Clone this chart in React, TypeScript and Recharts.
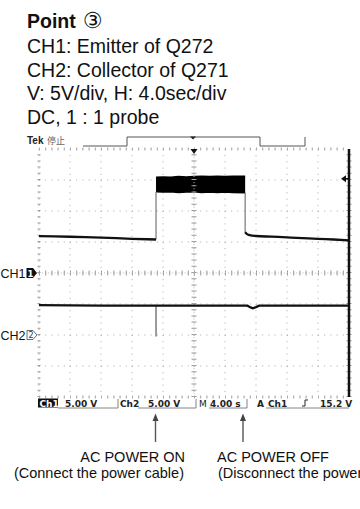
import React from 'react';
import { ComposedChart, Line, Area, XAxis, YAxis, CartesianGrid, ReferenceLine, ReferenceDot } from 'recharts';

// Horizontal: 10 div x 4.00 s ; Vertical: 8 div x 5.00 V
const timeTicks = [0, 4, 8, 12, 16, 20, 24, 28, 32, 36, 40];
const ch1VoltTicks = [-20, -15, -10, -5, 0, 5, 10, 15, 20];

const headerLines = ['CH1: Emitter of Q272', 'CH2: Collector of Q271', 'V: 5V/div, H: 4.0sec/div', 'DC, 1 : 1 probe'];

// CH1 (emitter of Q272), volts vs seconds
const ch1Before = [
  { t: 0, v: 5.95 }, { t: 2, v: 5.9 }, { t: 4, v: 5.85 }, { t: 6, v: 5.78 }, { t: 8, v: 5.7 },
  { t: 10, v: 5.62 }, { t: 12, v: 5.52 }, { t: 14, v: 5.44 }, { t: 15.1, v: 5.4 },
];
const ch1Rise = [{ t: 15.1, v: 5.4 }, { t: 15.1, v: 13.1 }];
const ch1Band = [
  { t: 15.1, r: [13.1, 15.45] }, { t: 16, r: [13.05, 15.5] }, { t: 17, r: [13.1, 15.45] },
  { t: 18, r: [13.0, 15.55] }, { t: 19, r: [13.05, 15.5] }, { t: 20, r: [13.1, 15.55] },
  { t: 21, r: [13.0, 15.6] }, { t: 22, r: [13.05, 15.55] }, { t: 23, r: [13.0, 15.6] },
  { t: 24, r: [13.05, 15.55] }, { t: 25, r: [13.0, 15.6] }, { t: 26.6, r: [12.95, 15.6] },
];
const ch1Fall = [{ t: 26.6, v: 12.95 }, { t: 26.6, v: 6.6 }];
const ch1After = [
  { t: 26.6, v: 6.6 }, { t: 26.8, v: 6.3 }, { t: 27.2, v: 6.1 }, { t: 28, v: 5.97 }, { t: 30, v: 5.86 },
  { t: 32, v: 5.75 }, { t: 34, v: 5.63 }, { t: 36, v: 5.5 }, { t: 38, v: 5.4 }, { t: 40, v: 5.27 },
];

// CH2 (collector of Q271)
const ch2Trace = [
  { t: 0, v: 4.82 }, { t: 4, v: 4.78 }, { t: 8, v: 4.75 }, { t: 12, v: 4.73 }, { t: 15.1, v: 4.73 },
  { t: 20, v: 4.73 }, { t: 26.9, v: 4.73 }, { t: 27.3, v: 4.45 }, { t: 27.6, v: 4.3 }, { t: 28.0, v: 4.5 },
  { t: 28.4, v: 4.73 }, { t: 34, v: 4.73 }, { t: 40, v: 4.75 },
];
const ch2Spike = [{ t: 15.1, v: 4.73 }, { t: 15.1, v: -0.25 }];

const triggerLevel = 15.2;
const triggerTime = 20;

const SANS = "'Liberation Sans', Arial, sans-serif";
const LCD = "'DejaVu Sans', sans-serif";

const Ch1Marker = (p: any) => {
  const { cx, cy } = p;
  if (cx == null || cy == null) return null;
  return (
    <g>
      <text x={0.5} y={cy + 4.5} fontFamily={SANS} fontSize={12.5} fill="#111">CH1</text>
      <path d={`M${cx - 12.5},${cy - 5} L${cx - 6},${cy - 5} L${cx - 2},${cy} L${cx - 6},${cy + 5} L${cx - 12.5},${cy + 5} Z`} fill="#111" />
      <text x={cx - 8.5} y={cy + 3.5} textAnchor="middle" fontFamily={LCD} fontWeight="bold" fontSize={8.5} fill="#fff">1</text>
    </g>
  );
};

const Ch2Marker = (p: any) => {
  const { cx, cy } = p;
  if (cx == null || cy == null) return null;
  return (
    <g>
      <text x={0.5} y={cy + 4.5} fontFamily={SANS} fontSize={12.5} fill="#111">CH2</text>
      <path d={`M${cx - 12},${cy - 4.5} L${cx - 6},${cy - 4.5} L${cx - 2},${cy} L${cx - 6},${cy + 4.5} L${cx - 12},${cy + 4.5} Z`} fill="#fff" stroke="#444" strokeWidth={0.8} />
      <text x={cx - 8} y={cy + 3.2} textAnchor="middle" fontFamily={LCD} fontSize={8} fill="#333">2</text>
    </g>
  );
};

const TrigLevelMarker = (p: any) => {
  const { cx, cy } = p;
  if (cx == null || cy == null) return null;
  return (
    <g>
      <path d={`M${cx - 8},${cy} L${cx - 3},${cy - 3.5} L${cx - 3},${cy + 3.5} Z`} fill="#111" />
      <line x1={cx - 3} y1={cy} x2={cx} y2={cy} stroke="#111" strokeWidth={1.5} />
    </g>
  );
};

const TrigPosMarker = (p: any) => {
  const { cx, cy } = p;
  if (cx == null || cy == null) return null;
  return <path d={`M${cx - 3.5},${cy} L${cx + 3.5},${cy} L${cx},${cy + 5} Z`} fill="#111" />;
};

export default function App() {
  return (
    <div style={{ position: 'absolute', left: 0, top: 0, width: 360, height: 509, background: '#fff', overflow: 'hidden' }}>
      <ComposedChart width={360} height={509} margin={{ top: 149, right: 11, bottom: 112, left: 39 }} style={{ position: 'absolute', left: 0, top: 0 }}>
        <XAxis type="number" dataKey="t" domain={[0, 40]} ticks={timeTicks} hide allowDataOverflow />
        <YAxis yAxisId="ch1" type="number" domain={[-20, 20]} ticks={ch1VoltTicks} hide allowDataOverflow />
        <YAxis yAxisId="ch2" type="number" domain={[-10, 30]} hide allowDataOverflow />
        <CartesianGrid yAxisId="ch1" stroke="#a8a8a8" strokeDasharray="1 5.2" />
        {/* fine ticks along the centre lines and the frame */}
        <ReferenceLine yAxisId="ch1" x={20} stroke="#999" strokeWidth={5} strokeDasharray="1 5.2" />
        <ReferenceLine yAxisId="ch1" x={20} stroke="#bbb" strokeWidth={1} strokeDasharray="1 2.1" />
        <ReferenceLine yAxisId="ch1" y={0} stroke="#999" strokeWidth={5} strokeDasharray="1 5.2" />
        <ReferenceLine yAxisId="ch1" y={0} stroke="#bbb" strokeWidth={1} strokeDasharray="1 2.1" />
        <ReferenceLine yAxisId="ch1" x={0} stroke="#999" strokeWidth={3} strokeDasharray="1 5.2" />
        <ReferenceLine yAxisId="ch1" y={20} stroke="#aaa" strokeWidth={3} strokeDasharray="1 5.2" />
        <ReferenceLine yAxisId="ch1" y={-20} stroke="#aaa" strokeWidth={3} strokeDasharray="1 5.2" />
        <ReferenceLine yAxisId="ch1" x={40} stroke="#999" strokeWidth={5} strokeDasharray="1 5.2" />
        <ReferenceLine yAxisId="ch1" x={40} stroke="#111" strokeWidth={2.5} />

        <Area yAxisId="ch1" data={ch1Band} dataKey="r" type="linear" fill="#000" fillOpacity={1} stroke="#000" strokeWidth={1.5} isAnimationActive={false} dot={false} activeDot={false} />
        <Line yAxisId="ch1" data={ch1Rise} dataKey="v" type="linear" stroke="#777" strokeWidth={1.2} dot={false} activeDot={false} isAnimationActive={false} />
        <Line yAxisId="ch1" data={ch1Fall} dataKey="v" type="linear" stroke="#777" strokeWidth={1.2} dot={false} activeDot={false} isAnimationActive={false} />
        <Line yAxisId="ch1" data={ch1Before} dataKey="v" type="linear" stroke="#111" strokeWidth={2.3} dot={false} activeDot={false} isAnimationActive={false} />
        <Line yAxisId="ch1" data={ch1After} dataKey="v" type="monotone" stroke="#111" strokeWidth={2.3} dot={false} activeDot={false} isAnimationActive={false} />
        <Line yAxisId="ch2" data={ch2Spike} dataKey="v" type="linear" stroke="#666" strokeWidth={1.3} dot={false} activeDot={false} isAnimationActive={false} />
        <Line yAxisId="ch2" data={ch2Trace} dataKey="v" type="linear" stroke="#111" strokeWidth={2.3} dot={false} activeDot={false} isAnimationActive={false} />

        <ReferenceDot yAxisId="ch1" x={0} y={0} ifOverflow="visible" shape={Ch1Marker} />
        <ReferenceDot yAxisId="ch2" x={0} y={0} ifOverflow="visible" shape={Ch2Marker} />
        <ReferenceDot yAxisId="ch1" x={40} y={triggerLevel} ifOverflow="visible" shape={TrigLevelMarker} />
        <ReferenceDot yAxisId="ch1" x={triggerTime} y={20} ifOverflow="visible" shape={TrigPosMarker} />
      </ComposedChart>

      <svg width={360} height={509} style={{ position: 'absolute', left: 0, top: 0, pointerEvents: 'none' }}>
        <text x={27} y={28} fontFamily={SANS} fontSize={19.5} fill="#111">
          <tspan fontWeight="bold">Point</tspan>
          <tspan fontFamily="'DejaVu Sans', sans-serif" fontSize={22}> ③</tspan>
        </text>
        {headerLines.map((s, i) => (
          <text key={s} x={27} y={53 + i * 23.7} fontFamily={SANS} fontSize={19.5} fill="#111">{s}</text>
        ))}

        <text x={27} y={144} fontFamily={SANS} fontWeight="bold" fontSize={10} fill="#222">Tek</text>
        <text x={47} y={144} fontFamily="'Noto Sans CJK SC', sans-serif" fontSize={9} fill="#666">停止</text>
        <polyline points="83,146 127,146 127,137 260,137 260,146 305,146 305,137" fill="none" stroke="#555" strokeWidth={1} />
        <path d="M190,136.5 L196,136.5 L193,139.5 Z" fill="#222" />

        {/* readout line */}
        <rect x={38} y={398.5} width={20} height={9} fill="#111" />
        <g fontFamily={LCD} fontWeight="bold" fontSize={9} fill="#222">
          <text x={39.5} y={406.5} fill="#fff">Ch1</text>
          <text x={65} y={406.5}>5.00 V</text>
          <text x={120} y={406.5}>Ch2</text>
          <text x={148} y={406.5}>5.00 V</text>
          <text x={199} y={406.5} fontWeight="normal">M</text>
          <text x={210} y={406.5}>4.00 s</text>
          <text x={257} y={406.5}>A</text>
          <text x={268} y={406.5}>Ch1</text>
          <text x={320} y={406.5}>15.2 V</text>
        </g>
        <path d="M302,406 L305,406 L305,400 L308,400" fill="none" stroke="#222" strokeWidth={1} />
        <g stroke="#666" strokeWidth={0.8} fill="none">
          <polyline points="58,408 118,408 118,399" />
          <polyline points="138,408 196,408 196,399" />
          <polyline points="209,408 247,408 247,399" />
          <line x1={266} y1={408} x2={349} y2={408} />
        </g>

        {/* arrows */}
        <g stroke="#555" strokeWidth={1.4}>
          <line x1={155.5} y1={419} x2={155.5} y2={442} />
          <line x1={243} y1={419} x2={243} y2={442} />
        </g>
        <path d="M155.5,413.5 L152.5,421 L158.5,421 Z" fill="#444" />
        <path d="M243,413.5 L240,421 L246,421 Z" fill="#444" />

        <g fontFamily={SANS} fontSize={14.5} fill="#111">
          <text x={185} y={462} textAnchor="end">AC POWER ON</text>
          <text x={184} y={478} textAnchor="end">(Connect the power cable)</text>
          <text x={217} y={462}>AC POWER OFF</text>
          <text x={218} y={478}>(Disconnect the power cable)</text>
        </g>
      </svg>
    </div>
  );
}
